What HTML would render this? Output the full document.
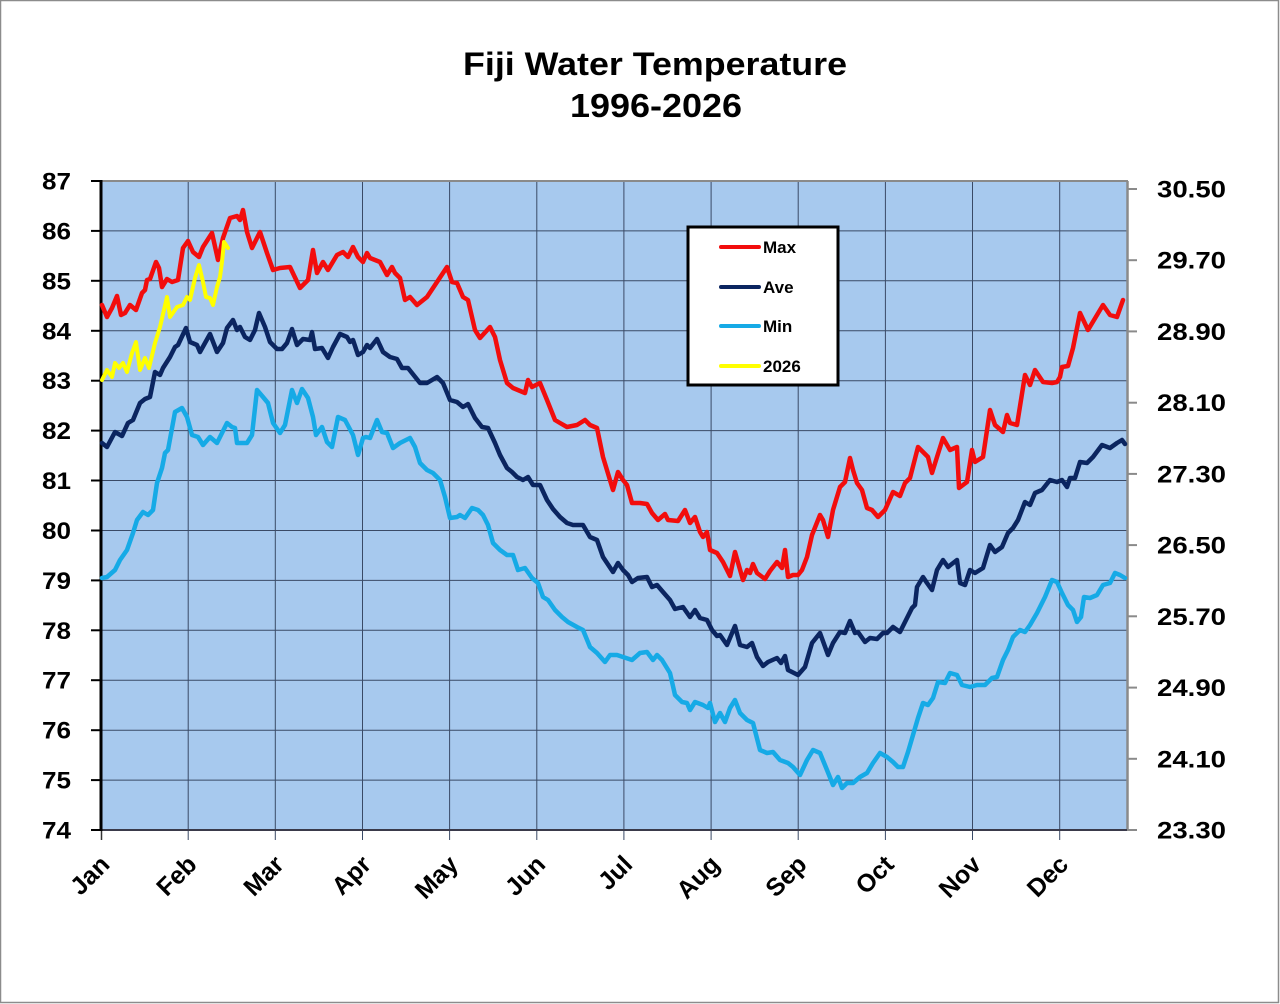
<!DOCTYPE html>
<html><head><meta charset="utf-8"><style>
html,body{margin:0;padding:0;background:#fff;}
svg{display:block;}
text{font-family:"Liberation Sans",Arial,sans-serif;font-weight:bold;fill:#000;}
</style></head><body>
<svg width="1280" height="1004" viewBox="0 0 1280 1004" xmlns="http://www.w3.org/2000/svg">
<rect x="0" y="0" width="1280" height="1004" fill="#fff"/>
<rect x="0.5" y="0.5" width="1278" height="1002" fill="none" stroke="#8c8c8c" stroke-width="1.5"/>
<!-- Title -->
<text x="655" y="75" font-size="32" text-anchor="middle" textLength="384" lengthAdjust="spacingAndGlyphs">Fiji Water Temperature</text>
<text x="656" y="117" font-size="33" text-anchor="middle" textLength="172" lengthAdjust="spacingAndGlyphs">1996-2026</text>
<!-- Plot area -->
<rect x="101" y="181" width="1026" height="649" fill="#A7C9EE"/>
<g stroke="#3a4a66" stroke-width="1" fill="none">
<line x1="101" y1="230.9" x2="1127" y2="230.9"/>
<line x1="101" y1="280.8" x2="1127" y2="280.8"/>
<line x1="101" y1="330.8" x2="1127" y2="330.8"/>
<line x1="101" y1="380.7" x2="1127" y2="380.7"/>
<line x1="101" y1="430.6" x2="1127" y2="430.6"/>
<line x1="101" y1="480.5" x2="1127" y2="480.5"/>
<line x1="101" y1="530.5" x2="1127" y2="530.5"/>
<line x1="101" y1="580.4" x2="1127" y2="580.4"/>
<line x1="101" y1="630.3" x2="1127" y2="630.3"/>
<line x1="101" y1="680.2" x2="1127" y2="680.2"/>
<line x1="101" y1="730.2" x2="1127" y2="730.2"/>
<line x1="101" y1="780.1" x2="1127" y2="780.1"/>
<line x1="188.2" y1="181" x2="188.2" y2="840"/>
<line x1="275.3" y1="181" x2="275.3" y2="840"/>
<line x1="362.5" y1="181" x2="362.5" y2="840"/>
<line x1="449.6" y1="181" x2="449.6" y2="840"/>
<line x1="536.8" y1="181" x2="536.8" y2="840"/>
<line x1="623.9" y1="181" x2="623.9" y2="840"/>
<line x1="711.1" y1="181" x2="711.1" y2="840"/>
<line x1="798.2" y1="181" x2="798.2" y2="840"/>
<line x1="885.4" y1="181" x2="885.4" y2="840"/>
<line x1="972.5" y1="181" x2="972.5" y2="840"/>
<line x1="1059.7" y1="181" x2="1059.7" y2="840"/>
</g>
<!-- plot border top/right -->
<line x1="101" y1="181" x2="1128" y2="181" stroke="#8a8a8a" stroke-width="2"/>
<line x1="1127.5" y1="181" x2="1127.5" y2="831" stroke="#8a8a8a" stroke-width="2.5"/>
<!-- bottom axis -->
<line x1="101" y1="830" x2="1128" y2="830" stroke="#3a3a4a" stroke-width="2"/>
<line x1="101.5" y1="830" x2="101.5" y2="840" stroke="#333" stroke-width="1.5"/>
<!-- left axis -->
<line x1="101" y1="180" x2="101" y2="831" stroke="#000" stroke-width="3"/>
<g stroke="#000" stroke-width="2">
<line x1="91" y1="181" x2="101" y2="181"/>
<line x1="91" y1="230.9" x2="101" y2="230.9"/>
<line x1="91" y1="280.8" x2="101" y2="280.8"/>
<line x1="91" y1="330.8" x2="101" y2="330.8"/>
<line x1="91" y1="380.7" x2="101" y2="380.7"/>
<line x1="91" y1="430.6" x2="101" y2="430.6"/>
<line x1="91" y1="480.5" x2="101" y2="480.5"/>
<line x1="91" y1="530.5" x2="101" y2="530.5"/>
<line x1="91" y1="580.4" x2="101" y2="580.4"/>
<line x1="91" y1="630.3" x2="101" y2="630.3"/>
<line x1="91" y1="680.2" x2="101" y2="680.2"/>
<line x1="91" y1="730.2" x2="101" y2="730.2"/>
<line x1="91" y1="780.1" x2="101" y2="780.1"/>
<line x1="91" y1="830" x2="101" y2="830"/>
</g>
<!-- right ticks -->
<g stroke="#8a8a8a" stroke-width="2">
<line x1="1127" y1="189" x2="1137" y2="189"/>
<line x1="1127" y1="260.2" x2="1137" y2="260.2"/>
<line x1="1127" y1="331.4" x2="1137" y2="331.4"/>
<line x1="1127" y1="402.7" x2="1137" y2="402.7"/>
<line x1="1127" y1="473.9" x2="1137" y2="473.9"/>
<line x1="1127" y1="545.1" x2="1137" y2="545.1"/>
<line x1="1127" y1="616.3" x2="1137" y2="616.3"/>
<line x1="1127" y1="687.6" x2="1137" y2="687.6"/>
<line x1="1127" y1="758.8" x2="1137" y2="758.8"/>
<line x1="1127" y1="830" x2="1137" y2="830"/>
</g>
<!-- left labels -->
<g font-size="24" text-anchor="end">
<text x="71" y="189.5" textLength="29" lengthAdjust="spacingAndGlyphs">87</text>
<text x="71" y="239.4" textLength="29" lengthAdjust="spacingAndGlyphs">86</text>
<text x="71" y="289.3" textLength="29" lengthAdjust="spacingAndGlyphs">85</text>
<text x="71" y="339.3" textLength="29" lengthAdjust="spacingAndGlyphs">84</text>
<text x="71" y="389.2" textLength="29" lengthAdjust="spacingAndGlyphs">83</text>
<text x="71" y="439.1" textLength="29" lengthAdjust="spacingAndGlyphs">82</text>
<text x="71" y="489" textLength="29" lengthAdjust="spacingAndGlyphs">81</text>
<text x="71" y="539" textLength="29" lengthAdjust="spacingAndGlyphs">80</text>
<text x="71" y="588.9" textLength="29" lengthAdjust="spacingAndGlyphs">79</text>
<text x="71" y="638.8" textLength="29" lengthAdjust="spacingAndGlyphs">78</text>
<text x="71" y="688.7" textLength="29" lengthAdjust="spacingAndGlyphs">77</text>
<text x="71" y="738.7" textLength="29" lengthAdjust="spacingAndGlyphs">76</text>
<text x="71" y="788.6" textLength="29" lengthAdjust="spacingAndGlyphs">75</text>
<text x="71" y="838.5" textLength="29" lengthAdjust="spacingAndGlyphs">74</text>
</g>
<!-- right labels -->
<g font-size="24">
<text x="1157" y="197.5" textLength="69" lengthAdjust="spacingAndGlyphs">30.50</text>
<text x="1157" y="268.7" textLength="69" lengthAdjust="spacingAndGlyphs">29.70</text>
<text x="1157" y="339.9" textLength="69" lengthAdjust="spacingAndGlyphs">28.90</text>
<text x="1157" y="411.2" textLength="69" lengthAdjust="spacingAndGlyphs">28.10</text>
<text x="1157" y="482.4" textLength="69" lengthAdjust="spacingAndGlyphs">27.30</text>
<text x="1157" y="553.6" textLength="69" lengthAdjust="spacingAndGlyphs">26.50</text>
<text x="1157" y="624.8" textLength="69" lengthAdjust="spacingAndGlyphs">25.70</text>
<text x="1157" y="696.1" textLength="69" lengthAdjust="spacingAndGlyphs">24.90</text>
<text x="1157" y="767.3" textLength="69" lengthAdjust="spacingAndGlyphs">24.10</text>
<text x="1157" y="838.5" textLength="69" lengthAdjust="spacingAndGlyphs">23.30</text>
</g>
<!-- month labels -->
<g font-size="25" text-anchor="end">
<text transform="translate(111,866) rotate(-45)">Jan</text>
<text transform="translate(198.2,866) rotate(-45)">Feb</text>
<text transform="translate(285.3,866) rotate(-45)">Mar</text>
<text transform="translate(372.5,866) rotate(-45)">Apr</text>
<text transform="translate(459.6,866) rotate(-45)">May</text>
<text transform="translate(546.8,866) rotate(-45)">Jun</text>
<text transform="translate(633.9,866) rotate(-45)">Jul</text>
<text transform="translate(721.1,866) rotate(-45)">Aug</text>
<text transform="translate(808.2,866) rotate(-45)">Sep</text>
<text transform="translate(895.4,866) rotate(-45)">Oct</text>
<text transform="translate(982.5,866) rotate(-45)">Nov</text>
<text transform="translate(1069.7,866) rotate(-45)">Dec</text>
</g>
<!-- series -->
<g fill="none" stroke-linejoin="round" stroke-linecap="round">
<polyline stroke="#F20D0D" stroke-width="4.5" points="102,305 107,317 112,308 117,296 121,315 125,313 130,305 136,310 142,293 145,290 147,280 150,279 156,262 159,268 162,287 167,279 172,282 178,280 183,248 188,241 193,252 199,257 203,247 212,233 218,260 223,238 230,218 237,216 240,220 243,210 247,232 252,248 260,232 267,253 273,270 280,268 290,267 300,288 308,280 313,250 317,273 323,262 328,270 337,255 343,252 348,257 353,247 358,257 363,262 367,253 370,258 380,262 387,275 392,267 395,273 400,278 405,300 410,297 417,305 427,297 437,282 447,267 452,282 457,283 463,297 468,300 475,330 480,338 490,327 495,337 500,360 507,383 513,388 525,393 528,380 532,387 540,383 547,400 555,420 560,423 567,427 577,425 585,420 590,425 597,428 603,457 613,490 618,472 623,480 627,485 632,503 640,503 647,504 652,513 658,520 665,514 668,520 678,521 685,510 690,523 695,517 700,532 703,537 707,532 710,550 717,553 723,562 730,576 735,552 743,580 747,570 750,573 753,564 757,573 765,579 770,571 777,562 782,568 785,550 788,577 793,575 798,575 802,570 807,557 812,535 820,515 823,520 828,537 833,510 840,487 845,482 850,458 853,470 857,483 862,490 867,508 872,510 878,517 885,510 893,492 900,496 905,483 910,478 918,447 928,457 932,473 937,457 943,438 950,450 957,447 959,488 967,482 972,450 975,462 983,457 990,410 995,425 1003,432 1007,415 1010,423 1017,425 1025,375 1030,385 1035,370 1043,382 1052,383 1057,382 1060,377 1062,367 1068,366 1073,348 1080,313 1088,330 1097,315 1103,305 1110,315 1117,317 1123,300"/>
<polyline stroke="#0B2560" stroke-width="4.5" points="102,443 107,447 115,432 122,436 128,423 133,420 140,403 145,399 150,397 155,372 160,375 163,368 170,357 175,347 178,345 186,328 190,342 197,345 200,352 205,343 210,334 217,352 223,343 227,328 233,320 237,330 240,327 245,337 250,340 255,330 259,313 265,327 270,342 277,349 282,349 287,343 292,329 297,345 303,339 310,340 312,332 315,349 322,348 328,358 333,347 340,334 347,337 350,342 353,340 358,355 363,352 367,345 370,348 377,339 383,352 390,357 397,359 402,368 408,368 420,383 427,383 437,377 443,383 450,400 457,402 463,407 468,404 475,418 482,427 488,428 495,443 500,455 507,468 512,472 517,477 523,480 528,477 533,485 540,485 547,500 553,509 560,517 567,523 573,525 583,525 590,537 597,540 603,557 613,572 618,563 623,570 628,575 632,582 638,578 647,577 652,587 657,585 663,592 670,600 675,609 683,607 690,617 695,610 700,618 707,620 712,630 717,636 720,635 727,645 735,626 740,645 747,647 752,643 757,657 763,666 768,662 777,658 781,663 785,656 788,670 798,675 805,667 812,643 820,633 828,655 833,643 840,632 845,633 850,621 855,633 858,632 865,642 870,638 877,639 883,633 887,633 893,627 900,632 905,622 912,608 915,605 917,587 923,577 927,583 932,590 937,570 943,560 948,567 957,560 960,583 965,585 970,570 975,573 983,568 990,545 995,552 1002,547 1008,533 1013,528 1018,520 1025,502 1030,505 1035,493 1042,490 1050,480 1057,482 1062,480 1067,487 1070,478 1075,478 1080,462 1087,463 1093,457 1102,445 1110,448 1117,443 1122,440 1125,444"/>
<polyline stroke="#16AAE6" stroke-width="4.5" points="102,578 107,577 115,570 120,560 127,550 133,533 137,520 143,512 148,515 153,510 157,483 162,468 165,453 168,450 175,412 182,408 187,417 192,435 198,437 203,445 210,437 217,443 227,423 232,427 235,428 237,443 247,443 252,435 257,390 263,397 268,403 273,423 280,433 285,425 292,390 297,403 302,389 308,398 313,417 316,435 322,427 327,442 332,447 338,417 345,420 353,435 358,455 363,438 366,437 370,438 377,420 382,432 387,433 393,448 400,443 410,438 415,447 420,463 427,470 433,473 440,480 445,497 450,518 457,517 460,515 465,518 472,508 478,510 483,515 488,525 493,543 500,550 507,555 513,555 518,570 525,568 532,578 538,583 543,597 548,600 555,610 562,617 568,622 577,627 583,630 590,647 597,653 605,662 610,655 617,655 623,657 632,660 640,653 647,652 653,660 657,655 662,660 670,673 675,695 682,702 687,703 690,710 695,702 703,705 708,708 710,703 715,722 720,713 725,722 730,708 735,700 740,713 747,720 753,723 760,750 767,753 773,752 780,760 788,763 793,767 800,775 807,760 813,750 820,753 827,770 833,785 838,777 842,788 847,783 853,783 860,777 867,773 873,763 880,753 887,757 893,762 898,767 903,767 908,752 913,735 918,718 923,703 928,705 933,698 938,682 945,683 950,673 957,675 962,685 970,687 977,685 985,685 992,678 997,677 1003,660 1008,650 1013,637 1020,630 1025,632 1030,625 1037,613 1045,597 1052,580 1057,582 1062,593 1068,605 1073,610 1077,622 1081,617 1084,597 1090,598 1097,595 1103,585 1110,583 1115,573 1120,575 1125,578"/>
<polyline stroke="#FFFF00" stroke-width="4" points="102,380 107,370 112,377 115,363 119,368 123,363 127,372 132,353 136,342 140,370 145,358 149,368 155,343 160,327 167,297 170,317 177,307 183,305 187,297 190,300 195,278 199,265 203,282 206,297 210,298 213,305 217,287 220,277 222,262 224,242 228,248"/>
</g>
<!-- legend -->
<rect x="688" y="227" width="150" height="158" fill="#fff" stroke="#000" stroke-width="3"/>
<g stroke-width="4" stroke-linecap="round">
<line x1="721" y1="247" x2="759" y2="247" stroke="#F20D0D"/>
<line x1="721" y1="287" x2="759" y2="287" stroke="#0B2560"/>
<line x1="721" y1="326" x2="759" y2="326" stroke="#16AAE6"/>
<line x1="721" y1="366" x2="759" y2="366" stroke="#FFFF00"/>
</g>
<g font-size="17">
<text x="763" y="253">Max</text>
<text x="763" y="293">Ave</text>
<text x="763" y="332">Min</text>
<text x="763" y="372">2026</text>
</g>
</svg>
</body></html>
